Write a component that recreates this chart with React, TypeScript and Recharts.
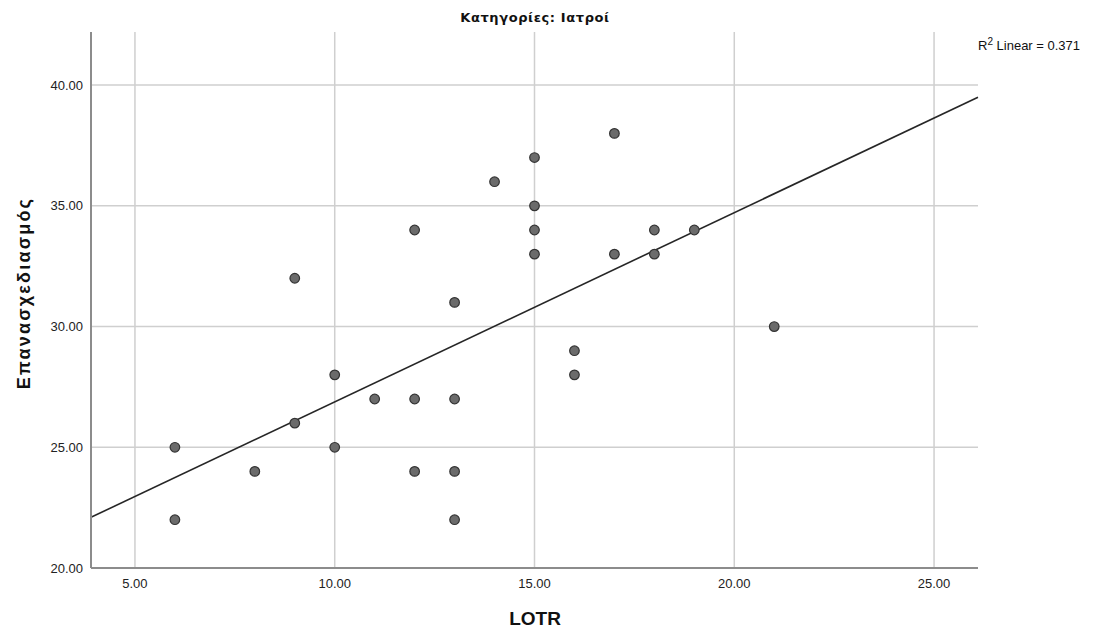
import React from 'react';
import { ComposedChart, Scatter, XAxis, YAxis, ReferenceLine } from 'recharts';

const lotr = [6, 6, 8, 9, 9, 10, 10, 11, 12, 12, 12, 13, 13, 13, 13, 14, 15, 15, 15, 15, 16, 16, 17, 17, 18, 18, 19, 21];
const redesign = [25, 22, 24, 32, 26, 28, 25, 27, 34, 27, 24, 31, 27, 24, 22, 36, 37, 35, 34, 33, 29, 28, 38, 33, 34, 33, 34, 30];
const xTicks = [5, 10, 15, 20, 25];
const yTicks = [20, 25, 30, 35, 40];
const fitX = [3.9, 26.1];
const fitY = [22.1, 39.5];

const points = lotr.map((x, i) => ({ x, y: redesign[i] }));

const W = 1080;
const H = 620;
const font = 'Arial, "Liberation Sans", sans-serif';
const gridColor = '#cfcfcf';

export default function App() {
  return (
    <div style={{ position: 'relative', width: W, height: H, fontFamily: font, background: '#fff' }}>
      <ComposedChart width={W} height={H} margin={{ top: 24, right: 110, bottom: 0, left: 23 }}>
        <XAxis
          type="number"
          dataKey="x"
          domain={[3.9, 26.1]}
          ticks={xTicks}
          allowDataOverflow
          tickFormatter={(v: number) => v.toFixed(2)}
          tickLine={false}
          tickMargin={5}
          axisLine={{ stroke: '#8c8c8c', strokeWidth: 2 }}
          tick={{ fontSize: 13, fill: '#222', fontFamily: font }}
          height={60}
        />
        <YAxis
          type="number"
          dataKey="y"
          domain={[20, 42.2]}
          ticks={yTicks}
          allowDataOverflow
          tickFormatter={(v: number) => v.toFixed(2)}
          tickLine={false}
          axisLine={{ stroke: '#8c8c8c', strokeWidth: 2 }}
          tick={{ fontSize: 13, fill: '#222', fontFamily: font }}
          width={60}
        />
        {xTicks.map((t) => (
          <ReferenceLine key={'vx' + t} x={t} stroke={gridColor} strokeWidth={1.5} />
        ))}
        {yTicks.slice(1).map((t) => (
          <ReferenceLine key={'hy' + t} y={t} stroke={gridColor} strokeWidth={1.5} />
        ))}
        <ReferenceLine
          segment={[{ x: fitX[0], y: fitY[0] }, { x: fitX[1], y: fitY[1] }]}
          stroke="#262626"
          strokeWidth={1.6}
        />
        <Scatter
          data={points}
          isAnimationActive={false}
          shape={(p: any) => (
            <circle cx={p.cx} cy={p.cy} r={4.8} fill="#6b6b6b" stroke="#333" strokeWidth={1.2} />
          )}
        />
      </ComposedChart>
      <div style={{ position: 'absolute', left: 0, width: 1054, top: 2, textAlign: 'center', fontSize: 13, fontWeight: 'bold', letterSpacing: 0.6, fontFamily: '"DejaVu Sans", sans-serif', color: '#111' }}>
        Κατηγορίες: Ιατροί
      </div>
      <div style={{ position: 'absolute', left: 970, top: 30, fontSize: 13, color: '#111', whiteSpace: 'nowrap' }}>
        R<sup style={{ fontSize: 10, verticalAlign: 'super', lineHeight: 0 }}>2</sup> Linear = 0.371
      </div>
      <div style={{ position: 'absolute', left: 0, width: 1054, top: 600, textAlign: 'center', fontSize: 19, fontWeight: 'bold', color: '#111' }}>
        LOTR
      </div>
      <div style={{ position: 'absolute', left: 16, top: 285, width: 0, height: 0 }}>
        <div style={{ position: 'absolute', transform: 'translate(-50%, -50%) rotate(-90deg)', whiteSpace: 'nowrap', fontSize: 18, fontWeight: 'bold', letterSpacing: 2.2, color: '#111' }}>
          Επανασχεδιασμός
        </div>
      </div>
    </div>
  );
}
